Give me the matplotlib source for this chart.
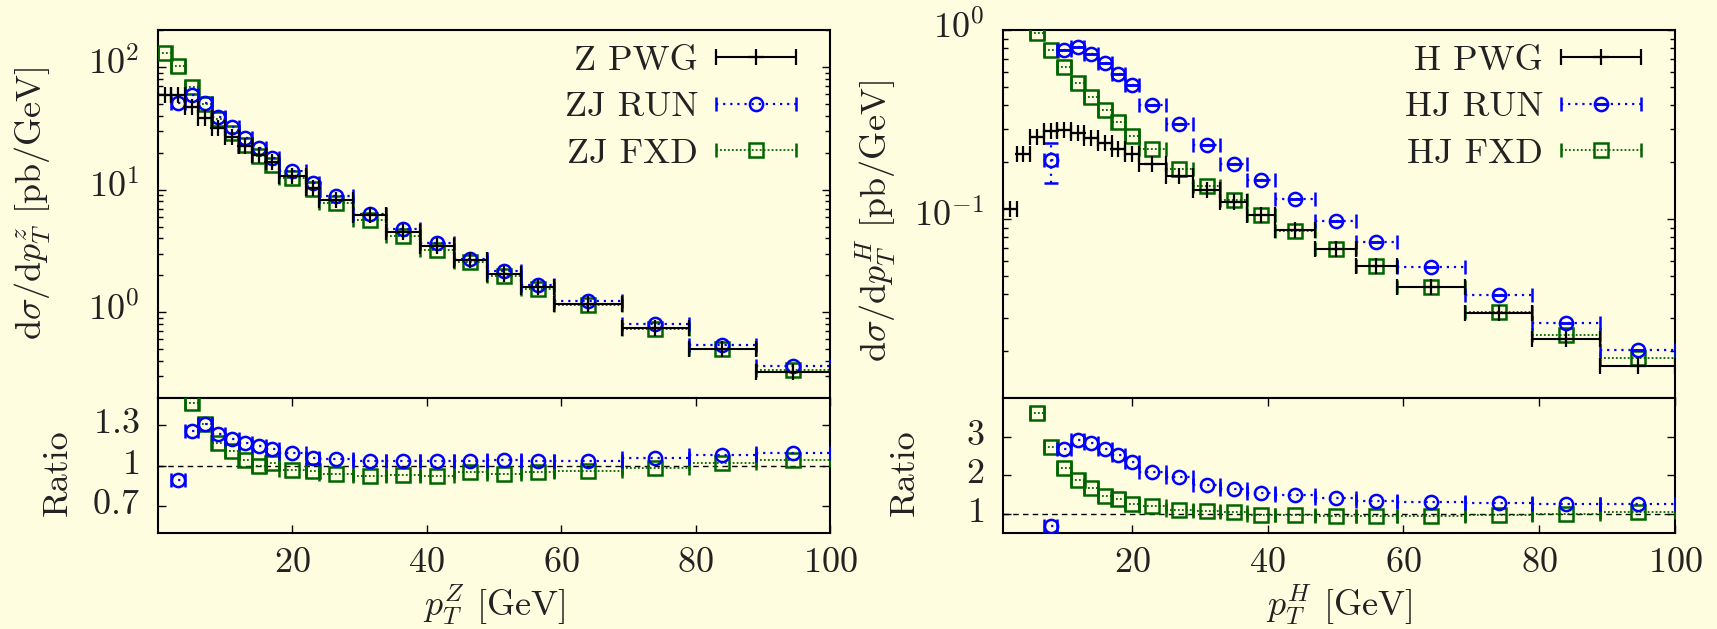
import numpy as np
import matplotlib
matplotlib.use("Agg")
import matplotlib.pyplot as plt
from matplotlib.legend_handler import HandlerErrorbar
from matplotlib.container import ErrorbarContainer
from matplotlib.ticker import LogLocator, NullFormatter, NullLocator
from matplotlib.transforms import ScaledTranslation

# ---------------- data ----------------
# Z boson pT spectrum (bins in GeV)
z_lo = [0, 2, 4, 6, 8, 10, 12, 14, 16, 18, 22, 24, 29, 34, 39, 44, 49, 54, 59, 69, 79, 89]
z_hi = [2, 4, 6, 8, 10, 12, 14, 16, 18, 22, 24, 29, 34, 39, 44, 49, 54, 59, 69, 79, 89, 100]
z_pwg = [58.5, 58.5, 46.7, 38.3, 31.8, 26.8, 22.5, 19.3, 16.8, 12.8, 10.3, 8.3, 6.15, 4.53,
         3.46, 2.66, 2.07, 1.62, 1.16, 0.75, 0.50, 0.327]
z_run = [np.nan, 51.0, 58.5, 50.5, 39.0, 32.1, 26.3, 21.7, 18.2, 14.2, 11.3, 8.8, 6.38, 4.73,
         3.69, 2.73, 2.17, 1.66, 1.24, 0.80, 0.54, 0.366]
z_fxd = [131, 102, 68, 49.8, 37.6, 28.9, 22.9, 18.7, 16.0, 12.4, 10.1, 7.8, 5.63, 4.17,
         3.19, 2.56, 1.97, 1.54, 1.14, 0.736, 0.50, 0.34]
z_ratio_run = [np.nan, 0.89, 1.255, 1.31, 1.23, 1.20, 1.17, 1.144, 1.12, 1.09, 1.057, 1.05,
               1.037, 1.032, 1.032, 1.03, 1.04, 1.032, 1.032, 1.052, 1.08, 1.09]
z_ratio_fxd = [2.24, 1.74, 1.46, 1.31, 1.17, 1.107, 1.04, 1.0, 1.015, 0.963, 0.958, 0.938,
               0.92, 0.933, 0.92, 0.95, 0.94, 0.95, 0.958, 0.983, 1.02, 1.04]

# Higgs pT spectrum (bins in GeV)
h_lo = [1, 3, 5, 7, 9, 11, 13, 15, 17, 19, 21, 25, 29, 33, 37, 41, 47, 53, 59, 69, 79, 89]
h_hi = [3, 5, 7, 9, 11, 13, 15, 17, 19, 21, 25, 29, 33, 37, 41, 47, 53, 59, 69, 79, 89, 100]
h_pwg = [0.1125, 0.221, 0.273, 0.293, 0.295, 0.285, 0.268, 0.252, 0.236, 0.221, 0.195, 0.168,
         0.143, 0.123, 0.105, 0.0872, 0.0698, 0.0566, 0.0435, 0.0318, 0.0233, 0.0167]
h_run = [np.nan, np.nan, np.nan, 0.204, 0.78, 0.817, 0.75, 0.665, 0.582, 0.513, 0.403, 0.319,
         0.247, 0.196, 0.160, 0.127, 0.0976, 0.076, 0.0559, 0.0394, 0.0281, 0.0202]
h_run_err = [0, 0, 0, 0.048, 0, 0, 0, 0, 0, 0, 0, 0, 0, 0, 0, 0, 0, 0, 0, 0, 0, 0]
h_fxd = [np.nan, np.nan, 0.97, 0.785, 0.641, 0.527, 0.444, 0.378, 0.325, 0.276, 0.235, 0.185,
         0.150, 0.126, 0.105, 0.0865, 0.0692, 0.0566, 0.0435, 0.0321, 0.0242, 0.0183]
h_ratio_run = [np.nan, np.nan, np.nan, 0.68, 2.68, 2.92, 2.84, 2.67, 2.51, 2.35, 2.09, 1.94,
               1.745, 1.63, 1.545, 1.48, 1.41, 1.32, 1.30, 1.28, 1.24, 1.255]
h_ratio_fxd = [np.nan, np.nan, 3.6, 2.73, 2.18, 1.88, 1.66, 1.47, 1.39, 1.255, 1.19, 1.105,
               1.06, 1.035, 0.97, 0.955, 0.93, 0.93, 0.95, 0.97, 0.99, 1.035]

# ---------------- style ----------------
BG = "#FFFDE0"
TXT = "#222222"
BLUE = "#0000FF"
GREEN = "#006400"
plt.rcParams.update({
    "font.family": "serif",
    "font.serif": ["cmr10"],
    "mathtext.fontset": "cm",
    "axes.unicode_minus": False,
    "axes.formatter.use_mathtext": True,
    "font.size": 26,
    "text.color": TXT,
    "axes.labelcolor": TXT,
    "xtick.labelcolor": TXT,
    "ytick.labelcolor": TXT,
})

W, H = 1717, 629
fig = plt.figure(figsize=(W / 100, H / 100), dpi=100)
fig.patch.set_facecolor(BG)


def frac(x0, y0, x1, y1):
    return [x0 / W, 1 - y1 / H, (x1 - x0) / W, (y1 - y0) / H]


def style_axes(ax):
    ax.set_facecolor(BG)
    for s in ax.spines.values():
        s.set_linewidth(1.5)
        s.set_color("black")
    ax.tick_params(which="both", direction="in", colors="black", labelcolor=TXT,
                   left=True, right=True)
    ax.tick_params(axis="y", which="major", length=6, width=1.0, pad=13.5)
    ax.tick_params(axis="x", which="major", length=6, width=1.0, pad=10)
    ax.tick_params(which="minor", length=3.5, width=1.0)


def lift_labels(labels, px):
    off = ScaledTranslation(0, px / 100, fig.dpi_scale_trans)
    for t in labels:
        t.set_transform(t.get_transform() + off)


def series(ax, lo, hi, y, kind, yerr=None, label=None):
    lo = np.asarray(lo, float)
    hi = np.asarray(hi, float)
    xc = (lo + hi) / 2
    xe = (hi - lo) / 2
    if kind == "pwg":
        eb = ax.errorbar(xc, y, xerr=xe, yerr=yerr, fmt="+", color="black", ms=11, mew=1.6,
                         elinewidth=1.5, capsize=6, capthick=1.5, label=label, zorder=5)
    elif kind == "run":
        eb = ax.errorbar(xc, y, xerr=xe, yerr=yerr, fmt="o", color=BLUE, mfc="none", mec=BLUE,
                         ms=9.5, mew=1.8, elinewidth=1.6, capsize=5, capthick=1.4,
                         label=label, zorder=4)
        for c in eb[2]:
            c.set_linestyle((0, (1, 2.2)))
    else:
        eb = ax.errorbar(xc, y, xerr=xe, yerr=yerr, fmt="s", color=GREEN, mfc="none", mec=GREEN,
                         ms=9.5, mew=1.8, elinewidth=1.3, capsize=5, capthick=1.2,
                         label=label, zorder=3)
        for c in eb[2]:
            c.set_linestyle((0, (1, 1.2)))
    return eb


def make_panel(x0, x1, lo, hi, pwg, run, fxd, run_err, r_run, r_fxd, names, ylim, ylog_ticks,
               ylog_labels, rlim, rticks, rlabels, xlim, ylab, xlab, ylab_xy, rlab_x):
    ax = fig.add_axes(frac(x0, 30, x1, 398))
    axr = fig.add_axes(frac(x0, 398, x1, 533), sharex=ax)
    for a in (ax, axr):
        style_axes(a)

    h3 = series(ax, lo, hi, fxd, "fxd", label=names[2])
    h2 = series(ax, lo, hi, run, "run", yerr=run_err, label=names[1])
    h1 = series(ax, lo, hi, pwg, "pwg", label=names[0])
    ax.set_yscale("log")
    ax.set_ylim(*ylim)
    ax.set_yticks(ylog_ticks)
    ax.set_yticklabels(ylog_labels)
    ax.yaxis.set_minor_locator(LogLocator(base=10, subs=np.arange(2, 10), numticks=20))
    ax.yaxis.set_minor_formatter(NullFormatter())
    ax.tick_params(axis="x", which="both", bottom=False, top=False, labelbottom=False)
    ax.set_ylabel(ylab)
    ax.yaxis.set_label_coords(*ylab_xy)
    lift_labels(ax.get_yticklabels(), 6)

    hl = 2.2
    ax.legend(handles=[h1, h2, h3], loc="upper right", bbox_to_anchor=(0.949, 0.961),
              frameon=False, markerfirst=False, handlelength=hl, handletextpad=0.5,
              labelspacing=0.40, borderaxespad=0, borderpad=0, numpoints=1,
              handler_map={ErrorbarContainer: HandlerErrorbar(xerr_size=hl / 2, yerr_size=0.0)})

    series(axr, lo, hi, r_fxd, "fxd")
    series(axr, lo, hi, r_run, "run")
    axr.axhline(1.0, color="black", lw=1.0, ls=(0, (4, 3)), zorder=2)
    axr.set_ylim(*rlim)
    axr.set_yticks(rticks)
    axr.set_yticklabels(rlabels)
    axr.yaxis.set_minor_locator(NullLocator())
    axr.set_xlim(*xlim)
    xt = [20, 40, 60, 80, 100]
    axr.set_xticks(xt)
    axr.set_xticklabels(["$%d$" % v for v in xt])
    axr.xaxis.set_minor_locator(NullLocator())
    axr.tick_params(axis="x", which="both", top=True, bottom=True)
    lift_labels(axr.get_yticklabels(), 4)
    axr.set_ylabel("Ratio")
    axr.yaxis.set_label_coords(rlab_x, 0.45)
    axr.set_xlabel(xlab)
    axr.xaxis.set_label_coords(0.5, -0.37)
    return ax, axr


make_panel(158, 830, z_lo, z_hi, z_pwg, z_run, z_fxd, None, z_ratio_run, z_ratio_fxd,
           ["Z PWG", "ZJ RUN", "ZJ FXD"], (0.2, 200), [1, 10, 100],
           [r"$10^{0}$", r"$10^{1}$", r"$10^{2}$"], (0.5, 1.5), [0.7, 1.0, 1.3],
           [r"$0.7$", r"$1$", r"$1.3$"], (0, 100),
           r"d$\sigma$/d$p_T^z$ [pb/GeV]", r"$p_T^Z$ [GeV]", (-0.156, 0.53), -0.125)

make_panel(1003, 1675, h_lo, h_hi, h_pwg, h_run, h_fxd, h_run_err, h_ratio_run, h_ratio_fxd,
           ["H PWG", "HJ RUN", "HJ FXD"], (0.0113, 1.0), [0.1, 1.0],
           [r"$10^{-1}$", r"$10^{0}$"], (0.5, 4.0), [1, 2, 3],
           [r"$1$", r"$2$", r"$3$"], (1, 100),
           r"d$\sigma$/d$p_T^H$ [pb/GeV]", r"$p_T^H$ [GeV]", (-0.156, 0.48), -0.122)

fig.savefig("out.png", dpi=100, facecolor=BG)
